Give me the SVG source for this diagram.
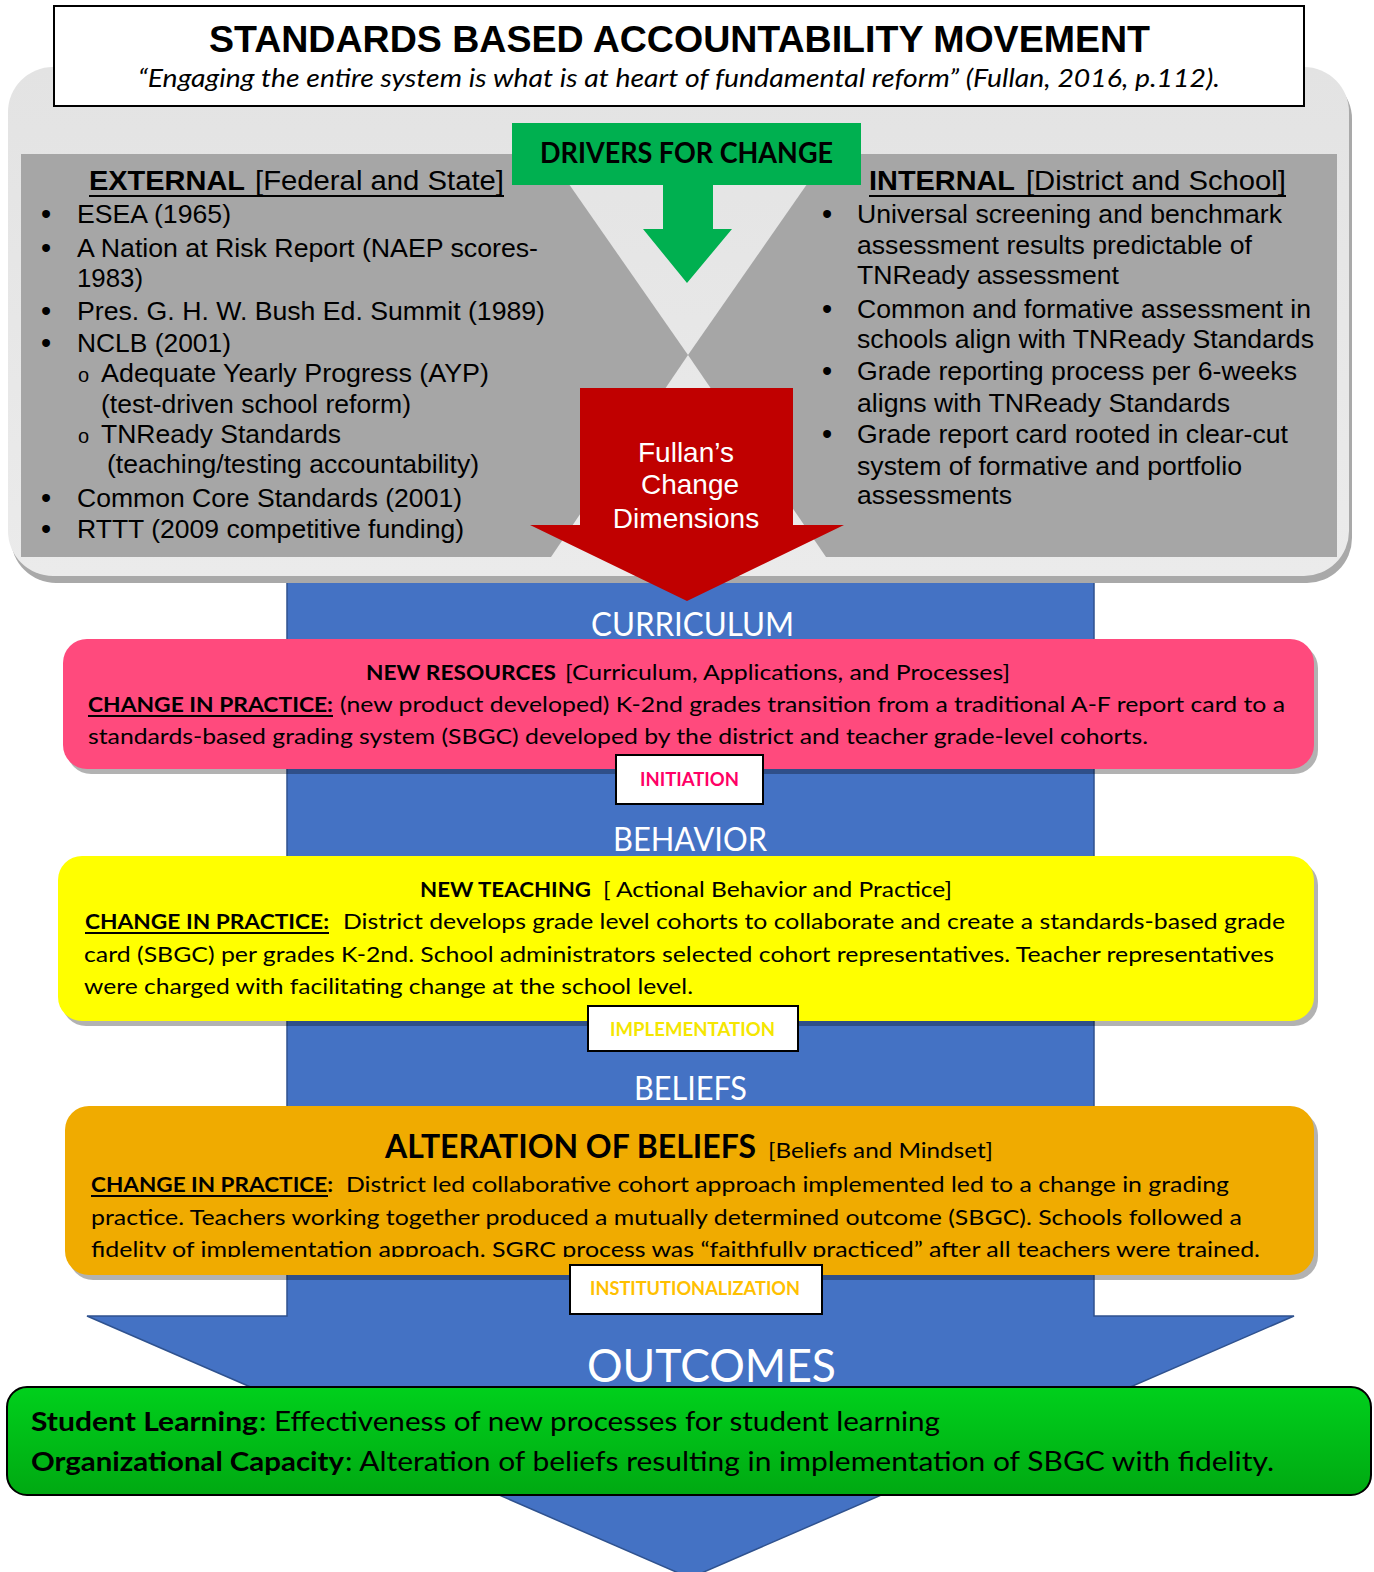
<svg xmlns="http://www.w3.org/2000/svg" width="1374" height="1572" viewBox="0 0 1374 1572">
<defs>
<linearGradient id="gCont" x1="0" y1="0" x2="0" y2="1">
<stop offset="0" stop-color="#e3e3e3"/>
<stop offset="1" stop-color="#ebebeb"/>
</linearGradient>
<linearGradient id="gGreen" x1="0" y1="0" x2="0" y2="1">
<stop offset="0" stop-color="#00d01c"/>
<stop offset="1" stop-color="#00a912"/>
</linearGradient>
<clipPath id="clipOrange"><rect x="60" y="1100" width="1260" height="157"/></clipPath>
</defs>
<style>
.blt{font-family:"Liberation Sans",Arial,sans-serif;font-size:26px;fill:#000;}
.dot{font-family:"Liberation Sans",Arial,sans-serif;font-size:29px;fill:#000;}
.sub{font-family:"Liberation Sans",Arial,sans-serif;font-size:20px;fill:#000;}
.hdr{font-family:"Liberation Sans",Arial,sans-serif;font-size:28px;fill:#000;}
.box{font-family:Lato,"Open Sans",sans-serif;font-size:21px;fill:#000;}
.grn{font-family:Lato,"Open Sans",sans-serif;font-size:27px;fill:#000;}
.lab{font-family:Lato,"Open Sans",sans-serif;font-size:32px;fill:#fff;}
.tag{font-family:Lato,"Open Sans",sans-serif;font-size:19px;font-weight:bold;}
.b{font-weight:bold;}
.shadow{fill:#000;fill-opacity:0.3;}
.ul{stroke:#000;stroke-width:2;}
.tagbox{fill:#fff;stroke:#000;stroke-width:2;}
</style>

<!-- big blue flow arrow -->
<g id="flow-arrow">
<polygon points="287,560 1094,560 1094,1316 1294,1316 690,1578 87,1316 287,1316" fill="#4472c4" stroke="#2f528f" stroke-width="1.5"/>
</g>

<!-- drivers container -->
<g id="drivers-panel">
<rect x="11" y="74" width="1341" height="509" rx="45" fill="#a9a9a9"/>
<rect x="8" y="67" width="1341" height="509" rx="45" fill="url(#gCont)"/>
<polygon points="21,154 548,154 688,355 551,557 21,557" fill="#a6a6a6"/>
<polygon points="1337,154 828,154 688,355 826,557 1337,557" fill="#a6a6a6"/>
</g>

<g id="title">
<rect x="54" y="6" width="1250" height="100" fill="#fff" stroke="#000" stroke-width="2"/>
<text x="209" y="52" font-family="'Liberation Sans',Arial,sans-serif" font-size="37" font-weight="bold" textLength="941" lengthAdjust="spacingAndGlyphs">STANDARDS BASED ACCOUNTABILITY MOVEMENT</text>
<text x="138" y="87" font-family="Lato,'Open Sans',sans-serif" font-size="25" font-style="italic" textLength="1082" lengthAdjust="spacingAndGlyphs">“Engaging the entire system is what is at heart of fundamental reform” (Fullan, 2016, p.112).</text>
</g>

<g id="drivers-for-change">
<rect x="512" y="123" width="349" height="62" fill="#00b050"/>
<text x="540" y="163" font-family="Lato,'Open Sans',sans-serif" font-size="28" font-weight="bold" textLength="293" lengthAdjust="spacingAndGlyphs">DRIVERS FOR CHANGE</text>
</g>

<g id="external">
<text class="hdr b" x="89" y="190" textLength="156" lengthAdjust="spacingAndGlyphs">EXTERNAL</text>
<text class="hdr" x="255" y="190" textLength="249" lengthAdjust="spacingAndGlyphs">[Federal and State]</text>
<line class="ul" x1="89" y1="196" x2="504" y2="196"/>
<text class="dot" x="41" y="224">•</text>
<text class="blt" x="77" y="223" textLength="154" lengthAdjust="spacingAndGlyphs">ESEA (1965)</text>
<text class="dot" x="41" y="258">•</text>
<text class="blt" x="77" y="257" textLength="461" lengthAdjust="spacingAndGlyphs">A Nation at Risk Report (NAEP scores-</text>
<text class="blt" x="77" y="287" textLength="66" lengthAdjust="spacingAndGlyphs">1983)</text>
<text class="dot" x="41" y="321">•</text>
<text class="blt" x="77" y="320" textLength="468" lengthAdjust="spacingAndGlyphs">Pres. G. H. W. Bush Ed. Summit (1989)</text>
<text class="dot" x="41" y="353">•</text>
<text class="blt" x="77" y="352" textLength="154" lengthAdjust="spacingAndGlyphs">NCLB (2001)</text>
<text class="sub" x="78" y="382">o</text>
<text class="blt" x="101" y="382" textLength="388" lengthAdjust="spacingAndGlyphs">Adequate Yearly Progress (AYP)</text>
<text class="blt" x="101" y="413" textLength="310" lengthAdjust="spacingAndGlyphs">(test-driven school reform)</text>
<text class="sub" x="78" y="443">o</text>
<text class="blt" x="101" y="443" textLength="240" lengthAdjust="spacingAndGlyphs">TNReady Standards</text>
<text class="blt" x="107" y="473" textLength="372" lengthAdjust="spacingAndGlyphs">(teaching/testing accountability)</text>
<text class="dot" x="41" y="508">•</text>
<text class="blt" x="77" y="507" textLength="385" lengthAdjust="spacingAndGlyphs">Common Core Standards (2001)</text>
<text class="dot" x="41" y="539">•</text>
<text class="blt" x="77" y="538" textLength="387" lengthAdjust="spacingAndGlyphs">RTTT (2009 competitive funding)</text>
</g>

<g id="internal">
<text class="hdr b" x="869" y="190" textLength="146" lengthAdjust="spacingAndGlyphs">INTERNAL</text>
<text class="hdr" x="1026" y="190" textLength="260" lengthAdjust="spacingAndGlyphs">[District and School]</text>
<line class="ul" x1="869" y1="196" x2="1286" y2="196"/>
<text class="dot" x="822" y="224">•</text>
<text class="blt" x="857" y="223" textLength="425" lengthAdjust="spacingAndGlyphs">Universal screening and benchmark</text>
<text class="blt" x="857" y="254" textLength="395" lengthAdjust="spacingAndGlyphs">assessment results predictable of</text>
<text class="blt" x="857" y="284" textLength="262" lengthAdjust="spacingAndGlyphs">TNReady assessment</text>
<text class="dot" x="822" y="319">•</text>
<text class="blt" x="857" y="318" textLength="454" lengthAdjust="spacingAndGlyphs">Common and formative assessment in</text>
<text class="blt" x="857" y="348" textLength="457" lengthAdjust="spacingAndGlyphs">schools align with TNReady Standards</text>
<text class="dot" x="822" y="381">•</text>
<text class="blt" x="857" y="380" textLength="440" lengthAdjust="spacingAndGlyphs">Grade reporting process per 6-weeks</text>
<text class="blt" x="857" y="412" textLength="373" lengthAdjust="spacingAndGlyphs">aligns with TNReady Standards</text>
<text class="dot" x="822" y="444">•</text>
<text class="blt" x="857" y="443" textLength="431" lengthAdjust="spacingAndGlyphs">Grade report card rooted in clear-cut</text>
<text class="blt" x="857" y="475" textLength="385" lengthAdjust="spacingAndGlyphs">system of formative and portfolio</text>
<text class="blt" x="857" y="504" textLength="155" lengthAdjust="spacingAndGlyphs">assessments</text>
</g>

<g id="connectors">
<polygon points="663,184 713,184 713,229 732,229 687,283 643,229 663,229" fill="#00b050"/>
<polygon points="580,388 793,388 793,525 844,525 687,601 530,525 580,525" fill="#c00000"/>
</g>

<g id="fullans-change-dimensions">
<text x="686" y="462" font-family="'Liberation Sans',Arial,sans-serif" font-size="28" fill="#fff" text-anchor="middle">Fullan’s</text>
<text x="690" y="494" font-family="'Liberation Sans',Arial,sans-serif" font-size="28" fill="#fff" text-anchor="middle">Change</text>
<text x="686" y="528" font-family="'Liberation Sans',Arial,sans-serif" font-size="28" fill="#fff" text-anchor="middle">Dimensions</text>
</g>

<g id="curriculum">
<text class="lab" x="591" y="636" textLength="203" lengthAdjust="spacingAndGlyphs">CURRICULUM</text>
<rect class="shadow" x="67" y="644" width="1251" height="130" rx="24"/>
<rect x="63" y="639" width="1251" height="130" rx="24" fill="#ff4a7d"/>
<text class="box b" x="366" y="680" textLength="190" lengthAdjust="spacingAndGlyphs">NEW RESOURCES</text>
<text class="box" x="565" y="680" textLength="445" lengthAdjust="spacingAndGlyphs">[Curriculum, Applications, and Processes]</text>
<text class="box b" x="88" y="712" textLength="245" lengthAdjust="spacingAndGlyphs">CHANGE IN PRACTICE:</text>
<line class="ul" x1="88" y1="716" x2="333" y2="716"/>
<text class="box" x="340" y="712" textLength="945" lengthAdjust="spacingAndGlyphs">(new product developed) K-2nd grades transition from a traditional A-F report card to a</text>
<text class="box" x="88" y="744" textLength="1060" lengthAdjust="spacingAndGlyphs">standards-based grading system (SBGC) developed by the district and teacher grade-level cohorts.</text>
</g>

<g id="initiation">
<rect class="tagbox" x="616" y="755" width="147" height="49"/>
<text class="tag" x="640" y="786" fill="#ff0066" textLength="99" lengthAdjust="spacingAndGlyphs">INITIATION</text>
</g>

<g id="behavior">
<text class="lab" x="613" y="851" textLength="154" lengthAdjust="spacingAndGlyphs">BEHAVIOR</text>
<rect class="shadow" x="62" y="861" width="1256" height="165" rx="24"/>
<rect x="58" y="856" width="1256" height="165" rx="24" fill="#ffff00"/>
<text class="box b" x="420" y="897" textLength="171" lengthAdjust="spacingAndGlyphs">NEW TEACHING</text>
<text class="box" x="603" y="897" textLength="349" lengthAdjust="spacingAndGlyphs">[ Actional Behavior and Practice]</text>
<text class="box b" x="85" y="929" textLength="244" lengthAdjust="spacingAndGlyphs">CHANGE IN PRACTICE:</text>
<line class="ul" x1="85" y1="933" x2="329" y2="933"/>
<text class="box" x="343" y="929" textLength="942" lengthAdjust="spacingAndGlyphs">District develops grade level cohorts to collaborate and create a standards-based grade</text>
<text class="box" x="84" y="962" textLength="1190" lengthAdjust="spacingAndGlyphs">card (SBGC) per grades K-2nd. School administrators selected cohort representatives. Teacher representatives</text>
<text class="box" x="84" y="994" textLength="609" lengthAdjust="spacingAndGlyphs">were charged with facilitating change at the school level.</text>
</g>

<g id="implementation">
<rect class="tagbox" x="588" y="1006" width="210" height="45"/>
<text class="tag" x="610" y="1036" fill="#f5e600" textLength="165" lengthAdjust="spacingAndGlyphs">IMPLEMENTATION</text>
</g>

<g id="beliefs">
<text class="lab" x="634" y="1100" textLength="113" lengthAdjust="spacingAndGlyphs">BELIEFS</text>
<rect class="shadow" x="69" y="1111" width="1249" height="169" rx="24"/>
<rect x="65" y="1106" width="1249" height="169" rx="24" fill="#f0ab00"/>
<text class="box b" x="385" y="1158" style="font-size:32px" textLength="371" lengthAdjust="spacingAndGlyphs">ALTERATION OF BELIEFS</text>
<text class="box" x="768" y="1158" textLength="225" lengthAdjust="spacingAndGlyphs">[Beliefs and Mindset]</text>
<text class="box b" x="91" y="1192" textLength="242" lengthAdjust="spacingAndGlyphs">CHANGE IN PRACTICE:</text>
<line class="ul" x1="91" y1="1196" x2="328" y2="1196"/>
<text class="box" x="346" y="1192" textLength="883" lengthAdjust="spacingAndGlyphs">District led collaborative cohort approach implemented led to a change in grading</text>
<text class="box" x="91" y="1225" textLength="1151" lengthAdjust="spacingAndGlyphs">practice. Teachers working together produced a mutually determined outcome (SBGC). Schools followed a</text>
<g clip-path="url(#clipOrange)">
<text class="box" x="91" y="1257" textLength="1169" lengthAdjust="spacingAndGlyphs">fidelity of implementation approach. SGRC process was “faithfully practiced” after all teachers were trained.</text>
</g>
</g>

<g id="institutionalization">
<rect class="tagbox" x="570" y="1265" width="252" height="49"/>
<text class="tag" x="590" y="1295" fill="#ffc000" textLength="210" lengthAdjust="spacingAndGlyphs">INSTITUTIONALIZATION</text>
</g>

<g id="outcomes">
<text class="lab" x="587" y="1382" style="font-size:47px" textLength="249" lengthAdjust="spacingAndGlyphs">OUTCOMES</text>
<rect x="7" y="1387" width="1364" height="108" rx="20" fill="url(#gGreen)" stroke="#000" stroke-width="2"/>
<text class="grn b" x="31" y="1431" textLength="227" lengthAdjust="spacingAndGlyphs">Student Learning</text>
<text class="grn" x="259" y="1431" textLength="681" lengthAdjust="spacingAndGlyphs">: Effectiveness of new processes for student learning</text>
<text class="grn b" x="31" y="1471" textLength="313" lengthAdjust="spacingAndGlyphs">Organizational Capacity</text>
<text class="grn" x="345" y="1471" textLength="929" lengthAdjust="spacingAndGlyphs">:  Alteration of beliefs resulting in implementation of SBGC with fidelity.</text>
</g>
</svg>
